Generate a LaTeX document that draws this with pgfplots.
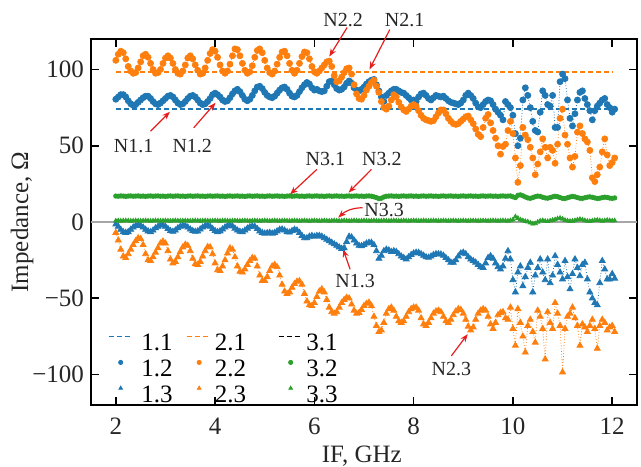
\documentclass[border=0pt]{standalone}
\usepackage{fontspec}
\setmainfont{Liberation Serif}
\usepackage{pgfplots}
\usepackage{pgfplotstable}
\pgfplotsset{compat=1.18}
\usetikzlibrary{arrows.meta}
\definecolor{tblue}{RGB}{31,119,180}
\definecolor{torange}{RGB}{255,127,14}
\definecolor{tgreen}{RGB}{44,160,44}
\definecolor{arr}{RGB}{230,30,30}

\pgfplotstableread{
x c12 c22 c32 t13 t23 t33
2.00 80.5 106 17.0 -1.5 -7 0.8
2.05 82 110 16.9 -3 -12 0.9
2.10 83.5 112 17.1 -5 -18 0.7
2.15 83.5 111 17.0 -6.5 -22.5 0.8
2.20 82 107 16.8 -7 -23.5 0.9
2.25 79.5 102 17.0 -6.5 -21 0.8
2.30 77.5 99 17.1 -5 -18 0.7
2.35 76.5 97.5 16.9 -3.5 -15 0.8
2.40 77 98 17.0 -2.5 -12.5 0.9
2.45 78.5 101 17.1 -2 -10.5 0.8
2.50 80 105 16.9 -2.5 -11 0.7
2.55 81.5 109 17.0 -3.5 -15 0.8
2.60 82.5 110 16.8 -5 -21 0.9
2.65 82.5 108 17.0 -6 -25 0.8
2.70 81 104 17.1 -6.5 -25.5 0.7
2.75 79 100 16.9 -5.5 -23 0.8
2.80 77.5 97.5 17.0 -4 -20 0.9
2.85 77 98 17.1 -3 -17 0.8
2.90 78 100 16.9 -2.2 -14 0.7
2.95 79.5 104 17.0 -2 -12.7 0.8
3.00 81 107.5 16.8 -3 -14 0.9
3.05 82.5 109 17.0 -4.5 -19 0.8
3.10 83 107.5 17.1 -5.8 -24.5 0.7
3.15 82 104 16.9 -6.3 -27 0.8
3.20 80 100 17.0 -5.5 -26 0.9
3.25 78 97.5 17.1 -4 -23 0.8
3.30 77 97 16.9 -3 -19.5 0.7
3.35 77.5 99 17.0 -2.3 -16.5 0.8
3.40 79 103 16.8 -2.5 -14.8 0.9
3.45 81 107.5 17.0 -3.5 -15.5 0.8
3.50 82.5 109 17.1 -4.8 -19 0.7
3.55 83 107 16.9 -5.8 -24 0.8
3.60 82 103 17.0 -6.3 -27.5 0.9
3.65 80 99.5 17.1 -6 -28 0.8
3.70 78 97 16.9 -4.8 -26 0.7
3.75 77 97.5 17.0 -3.5 -22.5 0.8
3.80 77.5 101 16.8 -2.5 -19 0.9
3.85 79 106 17.0 -2.2 -16.3 0.8
3.90 81 110.5 17.1 -3 -16.5 0.7
3.95 83.5 113 16.9 -4.5 -21 0.8
4.00 84.5 112 17.0 -5.8 -27 0.9
4.05 83.5 108 17.1 -6.5 -31.5 0.8
4.10 82 103 16.9 -6 -32 0.7
4.15 80 99 17.0 -4.8 -29 0.8
4.20 79 97.5 16.8 -3.5 -25 0.9
4.25 79.5 99 17.0 -2.5 -20.5 0.8
4.30 81.5 103.5 17.1 -2 -17.2 0.7
4.35 84 109 16.9 -2.8 -18 0.8
4.40 86 113.5 17.0 -4.2 -23 0.9
4.45 87 113 17.1 -5.5 -29 0.8
4.50 85.5 109 16.9 -6.3 -32.5 0.7
4.55 83 104 17.0 -6.5 -33 0.8
4.60 80.5 99.5 16.8 -5.5 -31 0.9
4.65 79.5 97.5 17.0 -4.2 -28 0.8
4.70 80.5 98.5 17.1 -3.2 -25.5 0.7
4.75 83 102.5 16.9 -2.7 -23.5 0.8
4.80 86 108 17.0 -3 -24 0.9
4.85 88.5 112.5 17.1 -4.5 -29 0.8
4.90 89 113.5 16.9 -6 -35 0.7
4.95 87.5 111 17.0 -7 -38.5 0.8
5.00 85 106 16.8 -7.5 -38.5 0.9
5.05 83 101 17.0 -7.2 -36 0.8
5.10 82 98 17.1 -7 -32 0.7
5.15 81.5 97 16.9 -7.5 -29 0.8
5.20 82.5 99 17.0 -7 -28 0.9
5.25 84.5 103.5 17.1 -6 -29.5 0.8
5.30 86.5 108 16.9 -5 -35 0.7
5.35 88 111.5 17.0 -4.8 -41 0.8
5.40 88.5 112 16.8 -5.5 -45.5 0.9
5.45 87 109 17.0 -6.5 -47 0.8
5.50 84.5 104 17.1 -6.8 -46 0.7
5.55 82.5 99.5 16.9 -5.8 -43 0.8
5.60 82 97.5 17.0 -5 -40.5 0.9
5.65 83 99.5 17.1 -5.5 -39 0.8
5.70 85.5 104 16.9 -7 -38.7 0.7
5.75 88 108.5 17.0 -9 -41 0.8
5.80 90 111.5 16.8 -10.5 -47 0.9
5.85 91.5 111 17.0 -10.5 -52 0.8
5.90 90.5 107 17.1 -9.5 -54.5 0.7
5.95 88 102 16.9 -9 -55 0.8
6.00 86.5 98.5 17.0 -9.5 -53 0.9
6.05 87 97.5 17.1 -9 -49 0.8
6.10 86 99 16.9 -9 -45.5 0.7
6.15 85.5 101 17.0 -9.5 -44 0.8
6.20 86 103 16.8 -10.5 -46 0.9
6.25 89 105 17.0 -11.5 -51 0.8
6.30 92 105.5 17.1 -12.5 -56 0.7
6.35 92.5 102 16.9 -13.5 -59 0.8
6.40 90 96 17.0 -14.5 -60 0.9
6.45 87.5 92 17.1 -15.5 -59 0.8
6.50 86.5 92.5 16.9 -16.5 -56 0.7
6.55 87 95 17.0 -17.5 -53 0.8
6.60 88.5 98 16.8 -17 -51 0.9
6.65 91 100.5 17.0 -13 -49.6 0.8
6.70 92.5 101 17.1 -9.5 -50 0.7
6.75 91 97 16.9 -10 -54 0.8
6.80 88 90 17.0 -12 -58 0.9
6.85 86.5 84 17.1 -14 -60 0.8
6.90 86 81 16.9 -15.5 -59.5 0.7
6.95 87 80.5 17.0 -15.7 -57.5 0.8
7.00 88.5 83 16.8 -15 -55 0.9
7.05 90.5 86.5 17.0 -14 -53.5 0.8
7.10 92 89 17.1 -13.5 -52.8 0.7
7.15 93 91.5 16.9 -13.5 -55 0.8
7.20 93.5 93 16.5 -15 -62 0.9
7.25 90 89 16.0 -19 -68 0.8
7.30 86 85 15.3 -24 -72 0.7
7.35 82 79 15.6 -22 -71 0.8
7.40 79 75 16.4 -19 -66 0.9
7.45 83 74 16.9 -18 -60 0.8
7.50 84.5 76 17.0 -18.5 -57 0.7
7.55 86 80 17.1 -19.5 -56 0.8
7.60 87 83.5 16.9 -19 -58 0.9
7.65 87 82 17.0 -19.5 -62 0.8
7.70 86 78.5 16.8 -21 -65 0.7
7.75 85 75.5 17.0 -22.5 -66 0.8
7.80 84.5 73.5 17.1 -23.5 -65 0.9
7.85 83 72.5 16.9 -24.4 -62 0.8
7.90 81.5 74 17.0 -23 -59 0.7
7.95 80 76 17.1 -21.5 -57 0.8
8.00 80 77 16.9 -20.5 -56 0.9
8.05 79 76 17.0 -20 -56 0.8
8.10 82 73 16.8 -20.1 -58 0.7
8.15 84 70 17.0 -21 -63 0.8
8.20 84.5 68 17.1 -22 -67 0.9
8.25 83 67 16.9 -23 -68 0.8
8.30 81 66.5 17.0 -23.3 -66 0.7
8.35 80 66 17.1 -22.5 -63 0.8
8.40 81.5 66.5 16.9 -21.5 -60 0.9
8.45 83 69 17.0 -21 -58.5 0.8
8.50 82.5 71.5 16.8 -21 -58 0.7
8.55 82 73.5 17.0 -21.2 -59 0.8
8.60 82.5 73.5 17.1 -22 -62 0.9
8.65 81 71 16.9 -23.5 -65 0.8
8.70 79.5 68 17.0 -25 -66 0.7
8.75 78.5 66 17.1 -26.5 -64 0.8
8.80 78 64.5 16.9 -26.6 -61 0.9
8.85 77.5 64 17.0 -25 -58.5 0.8
8.90 77 64.5 16.8 -22.5 -57 0.7
8.95 78 66 17.0 -20.5 -57.5 0.8
9.00 80 67.5 17.1 -20 -60 0.9
9.05 83 69 16.9 -21 -64 0.8
9.10 84.5 69.5 17.0 -23 -68.5 0.7
9.15 83 67 17.1 -24.5 -71 0.8
9.20 81 64.5 16.9 -25.5 -69 0.9
9.25 78 61 17.0 -26.5 -64 0.8
9.30 75.5 57.5 16.8 -28 -60 0.7
9.35 75 56 17.0 -29.5 -58 0.8
9.40 77 62 17.1 -30 -57 0.9
9.45 79 68 16.9 -27 -58 0.8
9.50 80 70.5 17.0 -23.5 -62 0.7
9.55 79.5 65 17.1 -22.3 -67 0.8
9.60 77 60 16.9 -24 -70 0.9
9.65 74 55 17.0 -27 -66 0.8
9.70 72 50 16.8 -29.5 -61 0.7
9.75 70 44.5 17.0 -31 -59.5 0.8
9.80 67 49.5 17.1 -29 -59 0.9
9.85 79 51 16.9 -24 -63 0.8
9.90 77 60 17.0 -19 -64 0.7
9.95 75 66 17.1 -24.4 -56 1.0
10.00 70 58 16.5 -38 -70 1.5
10.05 58 42 16.0 -46 -81 3.5
10.10 50 26 17.5 -33 -57 2.5
10.15 55 37 17.8 -29 -66 1.5
10.20 80 62 17.2 -42 -75 1.0
10.25 88 57 16.4 -36 -85.5 0.5
10.30 83 54 15.8 -30 -68 0.2
10.35 75 49 15.5 -26.6 -64 -0.5
10.40 66 42 16.0 -46 -72 -1.2
10.45 60 31 16.6 -35 -79 -1.0
10.50 59 38 17.0 -30 -58 0.0
10.55 72 46 16.8 -24.4 -62 0.8
10.60 86 54.5 16.2 -33 -70 1.0
10.65 83 49 15.8 -38 -90 0.6
10.70 77 42 15.6 -24.4 -59 0.4
10.75 76 49 16.0 -40 -66 0.8
10.80 83 47 16.5 -35 -70 1.2
10.85 62 38.5 16.9 -22.3 -53 1.6
10.90 62 51 16.6 -28 -60 2.2
10.95 92 68 16.0 -33 -68 2.6
11.00 97 74 15.5 -37.5 -98.5 2.0
11.05 94 57 15.4 -25.5 -70 1.2
11.10 80 51 15.9 -36 -62 0.8
11.15 68 42 16.4 -44 -60 0.5
11.20 63 36 16.8 -34 -56 0.7
11.25 71 43 16.5 -24.4 -63 1.0
11.30 80 58.9 16.0 -30 -68 1.4
11.35 85 63 15.6 -35.4 -81 1.8
11.40 86 58 15.5 -28 -67 1.5
11.45 81 54.5 15.9 -26.6 -69 1.0
11.50 77 52.5 16.3 -37.5 -72 0.6
11.55 73 47 16.5 -46 -68 0.5
11.60 67 29 16.2 -50 -64 0.8
11.65 73 26.5 15.8 -53 -70 1.1
11.70 76 31 15.4 -54.5 -83 1.3
11.75 78 36 15.6 -40 -68 1.0
11.80 80 46 16.0 -25.5 -64 0.7
11.85 81 54.5 16.3 -31 -66 0.9
11.90 77 44 16.1 -37.5 -71 1.2
11.95 75 37 15.7 -37.5 -69 1.0
12.00 72 39 15.5 -34 -68 0.8
12.05 74 42 15.8 -37 -72 0.9
}\datatable

\pgfplotsset{
  linelegend/.style={legend image code/.code={\draw[##1] (0pt,4.2pt) -- (12pt,4.2pt);}},
  marklegend/.style={legend image code/.code={\path (0pt,4.2pt) (12pt,4.2pt); \path[##1, mark size=1.05pt] plot coordinates {(6pt,4.2pt)};}},
}
\newcommand{\lent}[3]{\makebox[#1][l]{\hspace{#2}#3}}

\begin{document}
\begin{tikzpicture}
\begin{axis}[
  scale only axis,
  width=273pt, height=183pt,
  xmin=1.5, xmax=12.5, ymin=-120, ymax=120,
  xtick={2,4,6,8,10,12}, xticklabels={2,4,6,8,10,12},
  ytick={-100,-50,0,50,100}, yticklabels={−100,−50,0,50,100},
  minor tick num=0,
  major tick length=4pt,
  tick style={line width=0.8pt, black},
  axis line style={line width=1pt},
  every tick label/.append style={font=\fontsize{12.5}{15}\selectfont, text=black!85},
  xticklabel style={yshift=-3pt},
  xlabel={IF, GHz}, ylabel={Impedance, Ω},
  label style={font=\fontsize{12.5}{15}\selectfont, text=black!85},
  xlabel style={at={(axis description cs:0.496,-0.14)}, anchor=center},
  ylabel style={at={(axis description cs:-0.126,0.5)}, anchor=center, rotate=0},
  clip=false,
  legend columns=3,
  legend cell align=left,
  legend style={draw=none, fill=none, inner sep=0pt, outer sep=0pt, column sep=0pt, row sep=0.4pt,
    nodes={inner sep=0pt, outer sep=0pt, text height=9pt, text depth=3.5pt},
    font=\fontsize{12.5}{15}\selectfont,
    at={(axis description cs:0.031,0.198)}, anchor=north west},
]
% zero line
\addplot[gray!70, line width=0.9pt, forget plot] coordinates {(1.5,0) (12.5,0)};
% dashed references
\addplot[tblue, line width=0.75pt, dash pattern=on 2.5pt off 1.5pt, linelegend] coordinates {(2,74) (12,74)};
\addlegendentry{\lent{26.5pt}{4pt}{1.1}}
\addplot[torange, line width=0.75pt, dash pattern=on 2.5pt off 1.5pt, linelegend] coordinates {(2,98.5) (12,98.5)};
\addlegendentry{\lent{33pt}{1.5pt}{2.1}}
\addplot[black, line width=0.75pt, dash pattern=on 2.5pt off 1.5pt, linelegend] coordinates {(2,16.8) (12,16.8)};
\addlegendentry{\lent{20pt}{1.5pt}{3.1}}
% circles
\addplot[tblue, densely dotted, line width=0.4pt, mark=*, mark size=1.5pt, mark options={solid}, marklegend] table[x=x,y=c12] {\datatable};
\addlegendentry{\lent{26.5pt}{4pt}{1.2}}
\addplot[torange, densely dotted, line width=0.4pt, mark=*, mark size=1.5pt, mark options={solid}, marklegend] table[x=x,y=c22] {\datatable};
\addlegendentry{\lent{33pt}{1.5pt}{2.2}}
\addplot[tgreen, densely dotted, line width=0.4pt, mark=*, mark size=1.1pt, mark options={solid}, marklegend] table[x=x,y=c32] {\datatable};
\addlegendentry{\lent{20pt}{1.5pt}{3.2}}
% triangles
\addplot[tblue, densely dotted, line width=0.4pt, mark=triangle*, mark size=1.7pt, mark options={solid}, marklegend] table[x=x,y=t13] {\datatable};
\addlegendentry{\lent{26.5pt}{4pt}{1.3}}
\addplot[torange, densely dotted, line width=0.4pt, mark=triangle*, mark size=1.7pt, mark options={solid}, marklegend] table[x=x,y=t23] {\datatable};
\addlegendentry{\lent{33pt}{1.5pt}{2.3}}
\addplot[tgreen, densely dotted, line width=0.4pt, mark=triangle*, mark size=1.2pt, mark options={solid}, marklegend] table[x=x,y=t33] {\datatable};
\addlegendentry{\lent{20pt}{1.5pt}{3.3}}

% annotations
\tikzset{ann/.style={font=\fontsize{10}{12}\selectfont, text=black!85, inner sep=0pt},
         arw/.style={arr, line width=0.6pt, -{Stealth[length=4pt,width=3pt]}}}
\node[ann] at (axis cs:6.58,132.7) {N2.2};
\draw[arw] (axis cs:6.66,127.5) -- (axis cs:6.30,108.5);
\node[ann] at (axis cs:7.82,132.7) {N2.1};
\draw[arw] (axis cs:7.52,126.2) -- (axis cs:7.11,100);
\node[ann] at (axis cs:2.36,49.6) {N1.1};
\draw[arw] (axis cs:2.70,59.6) -- (axis cs:3.09,72.3);
\node[ann] at (axis cs:3.54,49.8) {N1.2};
\draw[arw] (axis cs:3.57,61.8) -- (axis cs:4.01,78.2);
\node[ann] at (axis cs:6.22,41) {N3.1};
\draw[arw] (axis cs:6.05,34.5) -- (axis cs:5.51,18.1);
\node[ann] at (axis cs:7.36,41) {N3.2};
\draw[arw] (axis cs:7.15,34.5) -- (axis cs:6.69,19.3);
\node[ann, anchor=west] at (axis cs:7.0,8) {N3.3};
\draw[arw] (axis cs:6.97,9.4) to[bend right=20] (axis cs:6.48,2.9);
\node[ann] at (axis cs:6.82,-38.6) {N1.3};
\draw[arw] (axis cs:6.72,-31) -- (axis cs:6.58,-17.9);
\node[ann] at (axis cs:8.76,-96.5) {N2.3};
\draw[arw] (axis cs:8.76,-87.8) -- (axis cs:9.09,-73.5);
\end{axis}
\pgfresetboundingbox
\path[use as bounding box] ([shift={(-45.5pt,-30.5pt)}]current axis.south west) rectangle ([shift={(2pt,19.5pt)}]current axis.north east);
\end{tikzpicture}
\end{document}
